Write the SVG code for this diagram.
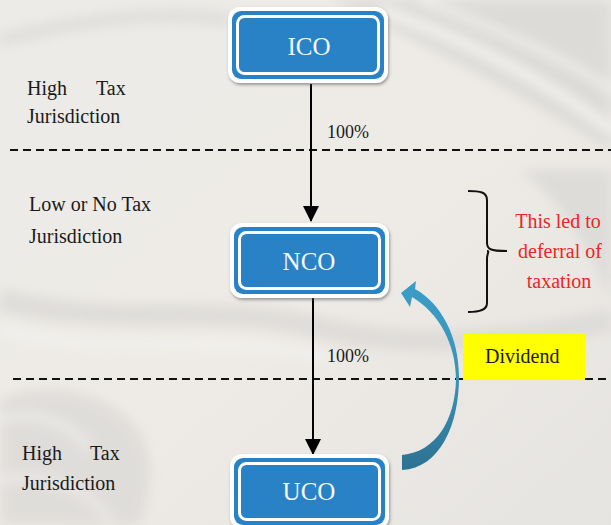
<svg xmlns="http://www.w3.org/2000/svg" width="611" height="525" viewBox="0 0 611 525">
<defs>
<style>
.lbl{font-family:"Liberation Serif","Times New Roman",serif;font-size:20px;fill:#1a1a1a}
.red{font-family:"Liberation Serif","Times New Roman",serif;font-size:20px;fill:#f02424;text-anchor:middle}
.node-text{font-family:"Liberation Serif","Times New Roman",serif;font-size:25px;fill:#f4f8fc;text-anchor:middle}
.dash{stroke:#111;stroke-width:2;stroke-dasharray:8 5;fill:none}
.conn{stroke:#000;stroke-width:2;fill:none}
.outer{fill:#ffffff}
.band{fill:#2a82c6}
.inner{fill:#2a82c6;stroke:#ffffff;stroke-width:3}
</style>
<linearGradient id="bg" x1="0" y1="0" x2="1" y2="1">
<stop offset="0" stop-color="#ecebe8"/>
<stop offset="0.5" stop-color="#eeebe6"/>
<stop offset="1" stop-color="#e6e4e1"/>
</linearGradient>
<linearGradient id="rib" x1="0" y1="0" x2="0" y2="1">
<stop offset="0" stop-color="#3a9dc7"/>
<stop offset="0.5" stop-color="#3a93bb"/>
<stop offset="1" stop-color="#2d7191"/>
</linearGradient>
<filter id="sh" x="-10%" y="-10%" width="125%" height="130%">
<feDropShadow dx="1" dy="2" stdDeviation="1.5" flood-color="#555" flood-opacity="0.55"/>
</filter>
<filter id="blur" x="-20%" y="-20%" width="140%" height="140%">
<feGaussianBlur stdDeviation="6"/>
</filter>
<marker id="ah" markerWidth="16" markerHeight="16" refX="15" refY="8" orient="auto" markerUnits="userSpaceOnUse">
<path d="M0,0 L16,8 L0,16 Z" fill="#000"/>
</marker>
</defs>

<!-- background -->
<rect width="611" height="525" fill="url(#bg)"/>
<g filter="url(#blur)" opacity="0.7">
<path d="M330,0 L611,0 L611,150 C560,120 480,70 330,0 Z" fill="#d6d5d3"/>
<path d="M380,10 C470,40 560,90 611,130" stroke="#f6f5f3" stroke-width="10" fill="none"/>
<path d="M420,0 C500,30 570,60 611,90" stroke="#f6f5f3" stroke-width="6" fill="none"/>
<path d="M0,40 C80,20 160,10 230,20" stroke="#dcdad7" stroke-width="14" fill="none"/>
<path d="M0,300 C120,330 220,300 330,330 C420,350 520,340 611,320" stroke="#d9d7d4" stroke-width="22" fill="none"/>
<path d="M0,330 C120,360 220,330 330,360" stroke="#f5f4f2" stroke-width="8" fill="none"/>
<path d="M0,400 C40,380 100,390 130,420 C160,450 150,500 140,525 L0,525 Z" fill="#dad8d5"/>
<path d="M520,170 C560,200 590,250 611,300 L611,170 Z" fill="#d8d7d5"/>
<path d="M0,420 C30,410 70,420 90,450" stroke="#f4f3f1" stroke-width="5" fill="none"/>
<path d="M0,480 C40,470 90,490 110,520" stroke="#f4f3f1" stroke-width="5" fill="none"/>
</g>

<!-- dashed region separators -->
<g id="separators">
<line class="dash" x1="10" y1="150" x2="611" y2="150"/>
<line class="dash" x1="13" y1="379" x2="611" y2="379"/>
</g>

<!-- region labels -->
<g id="labels">
<text class="lbl" x="27" y="95">High</text>
<text class="lbl" x="96" y="95">Tax</text>
<text class="lbl" x="27" y="123">Jurisdiction</text>
<text class="lbl" x="29" y="211">Low or No Tax</text>
<text class="lbl" x="29" y="243">Jurisdiction</text>
<text class="lbl" x="22" y="460">High</text>
<text class="lbl" x="90" y="460">Tax</text>
<text class="lbl" x="22" y="490">Jurisdiction</text>
</g>

<!-- connectors -->
<g id="connectors">
<line class="conn" x1="311" y1="84" x2="311" y2="221" marker-end="url(#ah)"/>
<line class="conn" x1="313" y1="298" x2="313" y2="454" marker-end="url(#ah)"/>
<text class="lbl" x="327" y="138" style="font-size:18px">100%</text>
<text class="lbl" x="327" y="362" style="font-size:18px">100%</text>
</g>

<!-- dividend box -->
<g id="dividend">
<rect x="463" y="334" width="122" height="46" fill="#ffff00"/>
<text class="lbl" x="485" y="363">Dividend</text>
</g>

<!-- curved dividend arrow -->
<g id="dividend-arrow">
<path d="M401,293 L416,281 L415,289 C441,303 459,337 459,377 C459,425 440,468 402,470 L402,455 C436,452 455,420 456,380 C456,344 439,313 412,297 L410,307 Z" fill="url(#rib)"/>
</g>

<!-- brace and note -->
<g id="brace">
<path d="M468,191 C480,191 487,192 487,200 L487,243 C487,249 490,251 507,251 M487,251 C490,251 487,253 487,259 L487,303 C487,310 480,312 468,312" stroke="#111" stroke-width="2" fill="none"/>
<text class="red" x="558" y="228">This led to</text>
<text class="red" x="560" y="258">deferral of</text>
<text class="red" x="559" y="288">taxation</text>
</g>

<!-- nodes -->
<g id="ICO">
<rect class="outer" x="228" y="7" width="160" height="76" rx="12" filter="url(#sh)"/>
<rect class="band" x="232" y="11" width="152" height="68" rx="9"/>
<rect class="inner" x="237.5" y="16.5" width="141" height="57" rx="7"/>
<text class="node-text" x="309" y="55">ICO</text>
</g>
<g id="NCO">
<rect class="outer" x="230" y="223" width="159" height="75" rx="12" filter="url(#sh)"/>
<rect class="band" x="234" y="227" width="151" height="67" rx="9"/>
<rect class="inner" x="239.5" y="232.5" width="140" height="56" rx="7"/>
<text class="node-text" x="309" y="270">NCO</text>
</g>
<g id="UCO">
<rect class="outer" x="230" y="454" width="159" height="75" rx="12" filter="url(#sh)"/>
<rect class="band" x="234" y="458" width="151" height="67" rx="9"/>
<rect class="inner" x="239.5" y="463.5" width="140" height="56" rx="7"/>
<text class="node-text" x="309" y="500">UCO</text>
</g>
</svg>
